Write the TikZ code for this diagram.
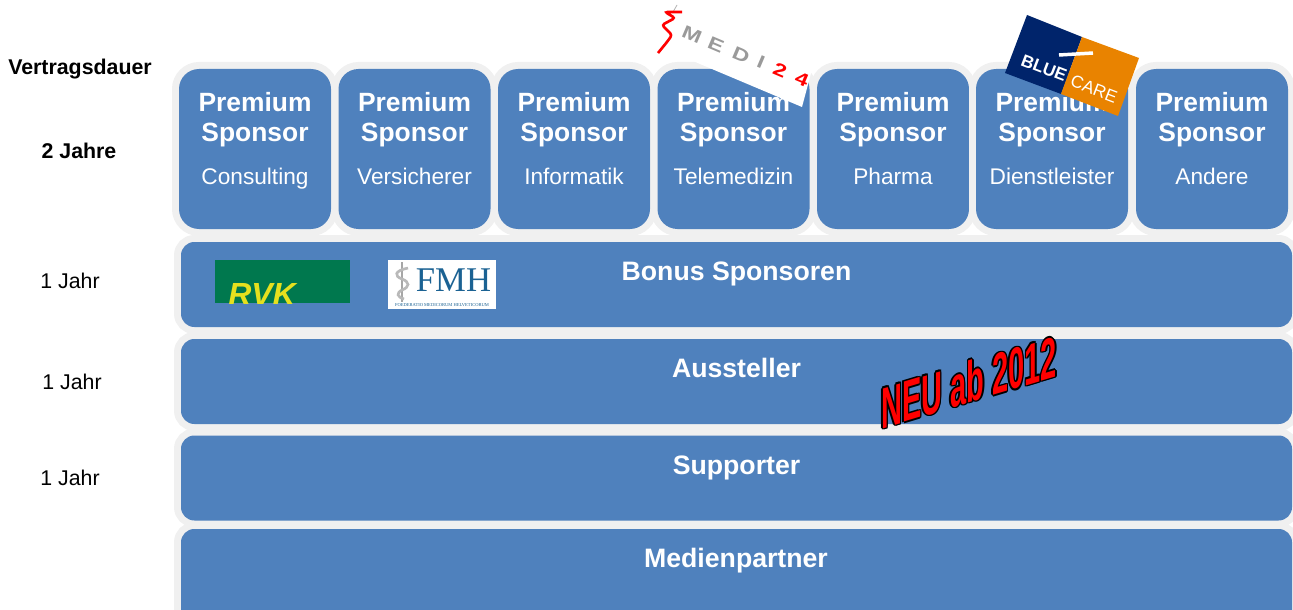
\documentclass[tikz,border=0pt]{standalone}
\usepackage{fontspec}
\setmainfont{Liberation Sans}
\newfontfamily\serifx{Liberation Serif}
\definecolor{boxblue}{HTML}{4F81BD}
\definecolor{halo}{HTML}{F0F0F0}
\definecolor{navy}{HTML}{00246B}
\definecolor{bcorange}{HTML}{E98300}
\definecolor{rvkgreen}{HTML}{00784E}
\definecolor{rvkyellow}{HTML}{E6E01E}
\definecolor{fmhblue}{HTML}{1B6293}
\definecolor{medigray}{HTML}{9A9A9A}
\tikzset{
  boxbase/.style={fill=boxblue,inner sep=0pt,preaction={draw=halo,line width=10.5pt}},
  premiumbox/.style={boxbase,rounded corners=15pt,minimum width=114pt,minimum height=120pt},
  barbox/.style={boxbase,rounded corners=10pt,minimum width=833.25pt,minimum height=63.75pt},
  headtxt/.style={text=white,anchor=base,inner sep=0pt,font=\fontsize{19.8pt}{22pt}\selectfont\bfseries},
  subtxt/.style={text=white,anchor=base,inner sep=0pt,font=\fontsize{17pt}{20pt}\selectfont},
  bartxt/.style={text=white,anchor=base,inner sep=0pt,font=\fontsize{20pt}{22pt}\selectfont\bfseries},
  sidetxt/.style={text=black,anchor=base,inner sep=0pt,font=\fontsize{16pt}{18pt}\selectfont},
  sidebold/.style={sidetxt,font=\fontsize{16pt}{18pt}\selectfont\bfseries},
  logotxt/.style={inner sep=0pt,anchor=center},
  meditxt/.style={logotxt,rotate=-23,xscale=1.3,transform shape,font=\fontsize{13.5pt}{14pt}\selectfont\bfseries},
  neutxt/.style={inner sep=0pt,xscale=.5,yslant=.15,transform shape,font=\fontsize{43.5pt}{46pt}\selectfont\bfseries}
}
\begin{document}
\begin{tikzpicture}[x=0.75pt,y=-0.75pt]
\useasboundingbox (0,0) rectangle (1293,610);
\clip (0,0) rectangle (1293,610);
% premium columns
\foreach \i/\cx/\lab in {1/255/Consulting,2/414.5/Versicherer,3/574/Informatik,4/733.5/Telemedizin,5/893/Pharma,6/1052/Dienstleister,7/1212/Andere}{
  \node[premiumbox] (p\i) at (\cx,149) {};
  \node[headtxt] (ph\i) at (\cx,112) {Premium};
  \node[headtxt] (ps\i) at (\cx,142) {Sponsor};
  \node[subtxt] (pl\i) at (\cx,184) {\lab};
}
% bars
\node[barbox] (b1) at (736.5,284.5) {};
\node[barbox] (b2) at (736.5,381.5) {};
\node[barbox] (b3) at (736.5,478) {};
\node[barbox,minimum height=72pt] (b4) at (736.5,577) {};
\node[bartxt] (t1) at (736.5,280) {Bonus Sponsoren};
\node[bartxt] (t2) at (736.5,377) {Aussteller};
\node[bartxt] (t3) at (736.5,474) {Supporter};
\node[bartxt] (t4) at (736,567) {Medienpartner};
% side labels
\node[sidebold] (s0) at (80,75) {Vertragsdauer};
\node[sidebold] (s1) at (79,158) {2 Jahre};
\node[sidetxt] (s2) at (70,288) {1 Jahr};
\node[sidetxt] (s3) at (72,389) {1 Jahr};
\node[sidetxt] (s4) at (70,485) {1 Jahr};
% RVK logo
\begin{scope}
  \clip (215,260) rectangle (350,303);
  \fill[rvkgreen] (215,260) rectangle (350,303);
  \node[inner sep=0pt,anchor=base west,text=rvkyellow,font=\fontsize{24pt}{25pt}\selectfont\bfseries\itshape] (rvk) at (228,305) {RVK};
\end{scope}
% FMH logo
\fill[white] (388,260) rectangle (496,309);
\draw[gray!70,line width=.8pt] (402,262) -- (402,302);
\draw[gray!55,line width=2pt] (408,268) .. controls (394,271) and (394,276) .. (402,279) .. controls (410,282) and (410,287) .. (402,290) .. controls (396,293) and (397,297) .. (404,299);
\node[logotxt,text=fmhblue,font=\serifx\fontsize{26pt}{28pt}\selectfont] (fmh) at (453.5,280) {FMH};
\node[logotxt,text=fmhblue,font=\serifx\fontsize{3.4pt}{4pt}\selectfont] (fmhsub) at (442,305) {FOEDERATIO MEDICORUM HELVETICORUM};
% Medi24 logo
\fill[white] (675,-8) -- (814,62) -- (802,107) -- (655,45) -- cycle;
\draw[gray!60,line width=.6pt] (677,5) -- (673,12);
\draw[red,line width=2pt,rounded corners=2pt] (682,12) -- (665,12) -- (675,18) -- (662,25) -- (672,35) -- (667,42) -- (658,53);
\foreach \nm/\ch/\cx/\cy/\col in {mm/M/692/35/medigray,me/E/716/45/medigray,md/D/741/55/medigray,mi/I/761/62/medigray,mt/2/780/70/red,mf/4/802/79/red}{
  \node[meditxt,text=\col] (\nm) at (\cx,\cy) {\ch};
}
% BlueCare logo
\fill[navy] (1027,15) -- (1082,37) -- (1061,94) -- (1005,73) -- cycle;
\fill[bcorange] (1082,37) -- (1139,58) -- (1118,116) -- (1061,94) -- cycle;
\draw[white,line width=2.6pt] (1059,55) -- (1093,53);
\node[logotxt,rotate=-21,text=white,font=\fontsize{13pt}{14pt}\selectfont\bfseries] (blue) at (1044,68) {BLUE};
\node[logotxt,rotate=-21,text=white,font=\fontsize{13pt}{14pt}\selectfont] (care) at (1094,89) {CARE};
% NEU ab 2012
\foreach \dx/\dy in {-1.5/0,1.5/0,0/-1.5,0/1.5,-1.1/-1.1,1.1/-1.1,-1.1/1.1,1.1/1.1}{
  \node[neutxt,text=black] at (969+\dx,382+\dy) {NEU ab 2012};
}
\node[neutxt,text=red] (neu) at (969,382) {NEU ab 2012};
\end{tikzpicture}
\end{document}
